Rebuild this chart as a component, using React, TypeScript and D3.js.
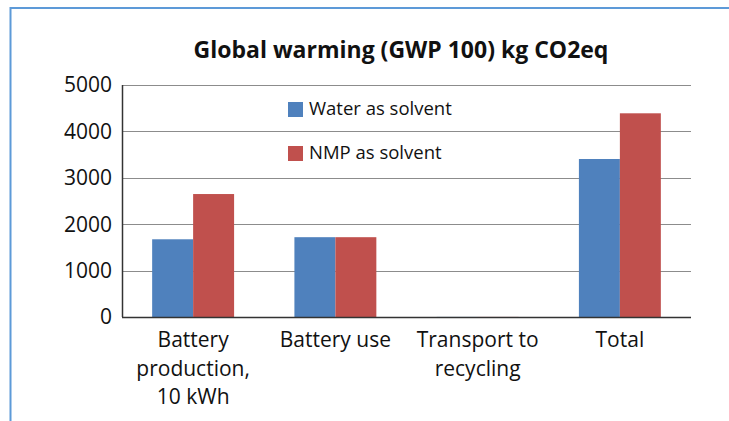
import { useEffect, useRef } from "react";
import * as d3 from "d3";

const categories = [
  ["Battery", "production,", "10 kWh"],
  ["Battery use"],
  ["Transport to", "recycling"],
  ["Total"],
];
const seriesNames = ["Water as solvent", "NMP as solvent"];
const waterValues = [1675, 1720, 2, 3405];
const nmpValues = [2650, 1720, 2, 4390];
const yTicks = [0, 1000, 2000, 3000, 4000, 5000];
const colors = ["#4f81bd", "#c0504d"];

const W = 729;
const H = 421;

export default function App() {
  const svgRef = useRef<SVGSVGElement>(null);

  useEffect(() => {
    if (!svgRef.current) return;
    const svg = d3.select(svgRef.current);
    svg.selectAll("*").remove();

    const font = "'Open Sans', sans-serif";
    const left = 122;
    const right = 691;
    const top = 85;
    const bottom = 317;

    // frame
    svg
      .append("path")
      .attr("d", `M10.5,${H} L10.5,8 L${W},8`)
      .attr("fill", "none")
      .attr("stroke", "#5d9ad8")
      .attr("stroke-width", 2);

    svg
      .append("text")
      .attr("x", 401)
      .attr("y", 58)
      .attr("text-anchor", "middle")
      .attr("font-family", font)
      .attr("font-weight", "bold")
      .attr("font-size", 23)
      .attr("fill", "#111")
      .text("Global warming (GWP 100) kg CO2eq");

    const y = d3.scaleLinear().domain([0, 5000]).range([bottom, top]);
    const idx = categories.map((_, i) => String(i));
    const x0 = d3
      .scaleBand()
      .domain(idx)
      .range([left, right])
      .paddingInner(0.424)
      .paddingOuter(0.212);
    const x1 = d3
      .scaleBand()
      .domain(["0", "1"])
      .range([0, x0.bandwidth()]);

    // gridlines
    svg
      .append("g")
      .selectAll("line")
      .data(yTicks.filter((t) => t > 0))
      .join("line")
      .attr("x1", left)
      .attr("x2", right)
      .attr("y1", (d) => Math.round(y(d)) + 0.5)
      .attr("y2", (d) => Math.round(y(d)) + 0.5)
      .attr("stroke", "#8c8c8c")
      .attr("stroke-width", 1);

    // y labels
    svg
      .append("g")
      .selectAll("text")
      .data(yTicks)
      .join("text")
      .attr("x", 112)
      .attr("y", (d) => y(d))
      .attr("dy", "0.35em")
      .attr("text-anchor", "end")
      .attr("font-family", font)
      .attr("font-size", 21)
      .attr("fill", "#111")
      .text((d) => String(d));

    // bars
    const series = [waterValues, nmpValues];
    series.forEach((vals, s) => {
      svg
        .append("g")
        .selectAll("rect")
        .data(vals)
        .join("rect")
        .attr("x", (_, i) => (x0(String(i)) ?? 0) + (x1(String(s)) ?? 0))
        .attr("y", (d) => y(d))
        .attr("width", x1.bandwidth())
        .attr("height", (d) => bottom - y(d))
        .attr("fill", colors[s]);
    });

    // axes
    svg
      .append("line")
      .attr("x1", left + 0.5)
      .attr("x2", left + 0.5)
      .attr("y1", top)
      .attr("y2", bottom)
      .attr("stroke", "#333")
      .attr("stroke-width", 1.5);
    svg
      .append("line")
      .attr("x1", left)
      .attr("x2", right)
      .attr("y1", bottom + 0.5)
      .attr("y2", bottom + 0.5)
      .attr("stroke", "#333")
      .attr("stroke-width", 1.5);

    // category labels
    const cat = svg
      .append("g")
      .selectAll("text")
      .data(categories)
      .join("text")
      .attr("x", (_, i) => (x0(String(i)) ?? 0) + x0.bandwidth() / 2)
      .attr("y", 347)
      .attr("text-anchor", "middle")
      .attr("font-family", font)
      .attr("font-size", 21)
      .attr("fill", "#111");
    cat.each(function (lines, i) {
      const t = d3.select(this);
      const cx = (x0(String(i)) ?? 0) + x0.bandwidth() / 2;
      lines.forEach((ln, j) => {
        t.append("tspan")
          .attr("x", cx)
          .attr("dy", j === 0 ? 0 : 28.5)
          .text(ln);
      });
    });

    // legend
    const legend = svg
      .append("g")
      .selectAll("g")
      .data(seriesNames)
      .join("g")
      .attr("transform", (_, i) => `translate(288,${102 + i * 44})`);
    legend
      .append("rect")
      .attr("width", 15)
      .attr("height", 15)
      .attr("fill", (_, i) => colors[i]);
    legend
      .append("text")
      .attr("x", 21)
      .attr("y", 7)
      .attr("dy", "0.35em")
      .attr("font-family", font)
      .attr("font-size", 18.5)
      .attr("fill", "#111")
      .text((d) => d);
  }, []);

  return (
    <svg
      ref={svgRef}
      width={W}
      height={H}
      style={{ position: "absolute", left: 0, top: 0, background: "#fff" }}
    />
  );
}
